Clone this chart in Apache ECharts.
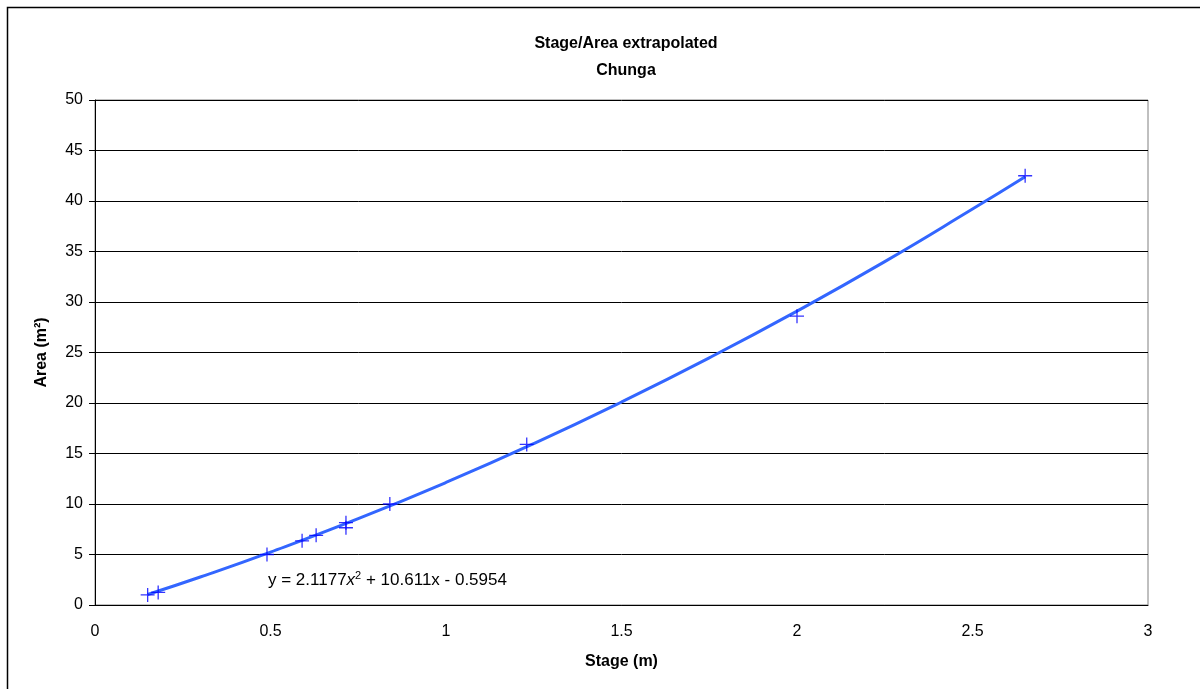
<!DOCTYPE html>
<html>
<head>
<meta charset="utf-8">
<script src="https://cdn.jsdelivr.net/npm/echarts@6/dist/echarts.min.js"></script>
<style>html,body{margin:0;padding:0;background:#fff;}#c{width:1200px;height:689px;}</style>
</head>
<body>
<div id="c"></div>
<script>
// Observed data points (Stage m, Area m²)
const stage = [0.15, 0.18, 0.49, 0.59, 0.63, 0.715, 0.715, 0.84, 1.23, 2.0, 2.65];
const area  = [1.0, 1.25, 5.0, 6.35, 6.9, 8.15, 7.65, 10.0, 15.9, 28.6, 42.5];
// Trendline
const trendStage = [0.15, 0.3, 0.5, 0.75, 1.0, 1.25, 1.5, 1.75, 2.0, 2.25, 2.5, 2.65];
const trendArea  = [1.04, 2.77, 5.24, 8.55, 12.13, 15.98, 20.1, 24.47, 29.1, 34.0, 39.2, 42.4];
const xTicks = [0, 0.5, 1, 1.5, 2, 2.5, 3];
const yTicks = [0, 5, 10, 15, 20, 25, 30, 35, 40, 45, 50];
const titleLines = ['Stage/Area extrapolated', 'Chunga'];
const equationText = '{n|y = 2.1177}{i|x}{s|2}{n| + 10.611x - 0.5954}';

const chart = echarts.init(document.getElementById('c'), null, {renderer: 'canvas'});
const FONT = 'Liberation Sans, Arial, sans-serif';
chart.setOption({
  animation: false,
  backgroundColor: '#fff',
  title: {
    text: titleLines.join('\n'),
    left: 621, top: 25, textAlign: 'center',
    textStyle: {fontFamily: FONT, fontSize: 16, fontWeight: 'bold', color: '#000', lineHeight: 27}
  },
  grid: {left: 95, top: 100, right: 52, bottom: 84, show: true, borderColor: '#808080', borderWidth: 1},
  xAxis: {
    type: 'value', min: xTicks[0], max: xTicks[xTicks.length - 1], interval: 0.5,
    name: 'Stage (m)', nameLocation: 'middle', nameGap: 49,
    nameTextStyle: {fontFamily: FONT, fontSize: 16, fontWeight: 'bold', color: '#000'},
    axisLine: {show: true, onZero: false, lineStyle: {color: '#000', width: 1}},
    axisTick: {show: false},
    axisLabel: {fontFamily: FONT, fontSize: 16, color: '#000', margin: 19, formatter: v => String(v)},
    splitLine: {show: false}
  },
  yAxis: {
    type: 'value', min: yTicks[0], max: yTicks[yTicks.length - 1], interval: 5,
    name: 'Area (m²)', nameLocation: 'middle', nameGap: 45, nameRotate: 90,
    nameTextStyle: {fontFamily: FONT, fontSize: 16, fontWeight: 'bold', color: '#000'},
    axisLine: {show: true, lineStyle: {color: '#000', width: 1}},
    axisTick: {show: true, inside: false, length: 6, lineStyle: {color: '#000'}},
    axisLabel: {fontFamily: FONT, fontSize: 16, color: '#000', margin: 12},
    splitLine: {show: true, lineStyle: {color: '#000', width: 1}}
  },
  graphic: [
    {type: 'rect', shape: {x: 7.5, y: 7.5, width: 1300, height: 800}, style: {fill: 'none', stroke: '#000', lineWidth: 1.5}, z: -1},
    {type: 'text', left: 268, top: 570, style: {
      text: equationText, fontFamily: FONT, fontSize: 17, fill: '#000',
      rich: {
        n: {fontFamily: FONT, fontSize: 17, color: '#000'},
        i: {fontFamily: FONT, fontSize: 17, fontStyle: 'italic', color: '#000'},
        s: {fontFamily: FONT, fontSize: 11, color: '#000', verticalAlign: 'top', padding: [0, 0, 9, 0]}
      }
    }}
  ],
  series: [
    {
      type: 'line', data: trendStage.map((s, i) => [s, trendArea[i]]),
      smooth: true, showSymbol: false, symbol: 'none',
      lineStyle: {color: '#3366FF', width: 3}, z: 2
    },
    {
      type: 'scatter', data: stage.map((s, i) => [s, area[i]]),
      symbol: 'path://M5,0 L5,10 M0,5 L10,5', symbolSize: 14,
      itemStyle: {color: 'none', borderColor: '#0000FF', borderWidth: 1.3}, z: 3
    }
  ]
});
</script>
</body>
</html>
